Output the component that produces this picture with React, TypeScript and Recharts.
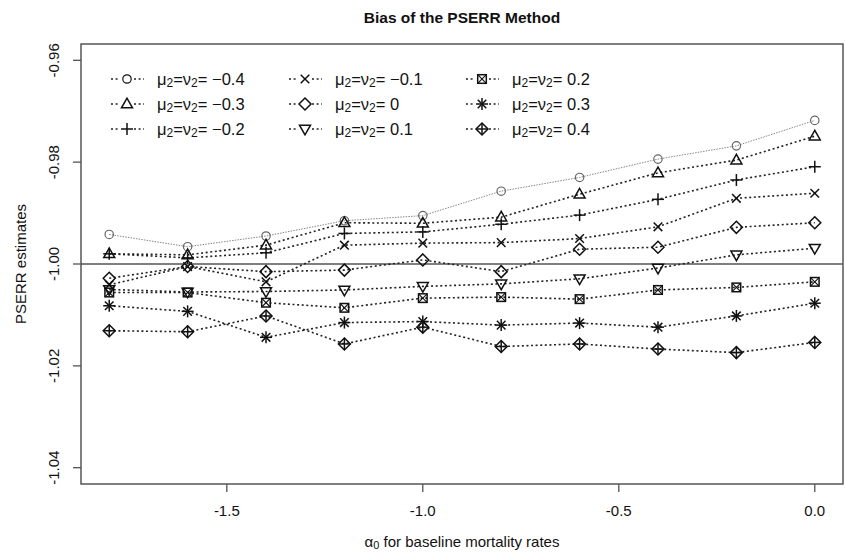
import React from "react";
import { LineChart, Line, XAxis, YAxis, ReferenceLine } from "recharts";

const alphas = [-1.8, -1.6, -1.4, -1.2, -1.0, -0.8, -0.6, -0.4, -0.2, 0.0];
const mNeg04 = [-0.9942, -0.9966, -0.9945, -0.9915, -0.9905, -0.9857, -0.983, -0.9794, -0.9768, -0.9718];
const mNeg03 = [-0.998, -0.9982, -0.9963, -0.9919, -0.992, -0.9908, -0.9863, -0.9821, -0.9796, -0.9749];
const mNeg02 = [-0.998, -0.9988, -0.9978, -0.994, -0.9937, -0.9922, -0.9904, -0.9873, -0.9835, -0.9809];
const mNeg01 = [-1.0041, -1.0005, -1.0035, -0.9963, -0.9959, -0.9958, -0.995, -0.9927, -0.9871, -0.9861];
const mZero = [-1.0028, -1.0005, -1.0015, -1.0012, -0.9992, -1.0015, -0.9971, -0.9967, -0.9928, -0.9919];
const mPos01 = [-1.005, -1.0055, -1.0054, -1.0051, -1.0044, -1.0039, -1.0029, -1.0008, -0.9982, -0.9969];
const mPos02 = [-1.0056, -1.0056, -1.0076, -1.0086, -1.0067, -1.0065, -1.0069, -1.0051, -1.0046, -1.0035];
const mPos03 = [-1.0082, -1.0093, -1.0144, -1.0115, -1.0113, -1.012, -1.0116, -1.0124, -1.0102, -1.0077];
const mPos04 = [-1.0131, -1.0133, -1.0102, -1.0157, -1.0124, -1.0162, -1.0157, -1.0167, -1.0174, -1.0154];

const xTicks = [-1.5, -1.0, -0.5, 0.0];
const yTicks = [-1.04, -1.02, -1.0, -0.98, -0.96];
const xDomain = [-1.872, 0.072];
const yDomain = [-1.0432, -0.9568];

const seriesDefs = [
  { key: "a", label: "\u22120.4", values: mNeg04, kind: "circle" },
  { key: "b", label: "\u22120.3", values: mNeg03, kind: "tri" },
  { key: "c", label: "\u22120.2", values: mNeg02, kind: "plus" },
  { key: "d", label: "\u22120.1", values: mNeg01, kind: "x" },
  { key: "e", label: "0", values: mZero, kind: "diamond" },
  { key: "f", label: "0.1", values: mPos01, kind: "tridown" },
  { key: "g", label: "0.2", values: mPos02, kind: "boxx" },
  { key: "h", label: "0.3", values: mPos03, kind: "star" },
  { key: "i", label: "0.4", values: mPos04, kind: "diamondplus" },
];

const data = alphas.map((x, i) => {
  const row: any = { x };
  seriesDefs.forEach((s) => (row[s.key] = s.values[i]));
  return row;
});

const FONT = "'Liberation Sans', Arial, Helvetica, sans-serif";
const INK = "#111";
const FRAME = "#555";

// chart layout (plot box)
const CHART_W = 845;
const CHART_H = 555;
const MARGIN = { top: 44, right: 2, left: 0, bottom: 41 };
const Y_AXIS_W = 81;
const X_AXIS_H = 30;
const PLOT = {
  x: MARGIN.left + Y_AXIS_W,
  y: MARGIN.top,
  w: CHART_W - MARGIN.left - Y_AXIS_W - MARGIN.right,
  h: CHART_H - MARGIN.top - MARGIN.bottom - X_AXIS_H,
};

function Marker({ cx, cy, kind, color }: { cx: number; cy: number; kind: string; color: string }) {
  const sw = 1.5;
  const common = { stroke: color, strokeWidth: sw, fill: "none" };
  switch (kind) {
    case "circle":
      return <circle cx={cx} cy={cy} r={4.2} {...common} strokeWidth={1.2} />;
    case "tri":
      return <polygon points={`${cx},${cy - 5.8} ${cx - 5.5},${cy + 3.8} ${cx + 5.5},${cy + 3.8}`} {...common} />;
    case "tridown":
      return <polygon points={`${cx},${cy + 5.8} ${cx - 5.5},${cy - 3.8} ${cx + 5.5},${cy - 3.8}`} {...common} />;
    case "plus":
      return (
        <g {...common}>
          <line x1={cx - 6} y1={cy} x2={cx + 6} y2={cy} />
          <line x1={cx} y1={cy - 6} x2={cx} y2={cy + 6} />
        </g>
      );
    case "x":
      return (
        <g {...common}>
          <line x1={cx - 4.3} y1={cy - 4.3} x2={cx + 4.3} y2={cy + 4.3} />
          <line x1={cx - 4.3} y1={cy + 4.3} x2={cx + 4.3} y2={cy - 4.3} />
        </g>
      );
    case "diamond":
      return <polygon points={`${cx},${cy - 6} ${cx + 6},${cy} ${cx},${cy + 6} ${cx - 6},${cy}`} {...common} />;
    case "boxx":
      return (
        <g {...common}>
          <rect x={cx - 4.3} y={cy - 4.3} width={8.6} height={8.6} />
          <line x1={cx - 4.3} y1={cy - 4.3} x2={cx + 4.3} y2={cy + 4.3} strokeWidth={1.1} />
          <line x1={cx - 4.3} y1={cy + 4.3} x2={cx + 4.3} y2={cy - 4.3} strokeWidth={1.1} />
        </g>
      );
    case "star":
      return (
        <g {...common}>
          <line x1={cx - 6} y1={cy} x2={cx + 6} y2={cy} />
          <line x1={cx} y1={cy - 6} x2={cx} y2={cy + 6} />
          <line x1={cx - 4.3} y1={cy - 4.3} x2={cx + 4.3} y2={cy + 4.3} />
          <line x1={cx - 4.3} y1={cy + 4.3} x2={cx + 4.3} y2={cy - 4.3} />
        </g>
      );
    case "diamondplus":
      return (
        <g {...common}>
          <polygon points={`${cx},${cy - 6} ${cx + 6},${cy} ${cx},${cy + 6} ${cx - 6},${cy}`} />
          <line x1={cx - 6} y1={cy} x2={cx + 6} y2={cy} />
          <line x1={cx} y1={cy - 6} x2={cx} y2={cy + 6} />
        </g>
      );
    default:
      return null;
  }
}

const YTick = (props: any) => {
  const { x, y, payload } = props;
  return (
    <text
      transform={`translate(${x - 20},${y}) rotate(-90)`}
      textAnchor="middle"
      dominantBaseline="central"
      fontSize={15}
      fontFamily={FONT}
      fill={INK}
    >
      {Number(payload.value).toFixed(2)}
    </text>
  );
};

const XTick = (props: any) => {
  const { x, y, payload } = props;
  return (
    <text x={x} y={y + 18} textAnchor="middle" dominantBaseline="central" fontSize={15} fontFamily={FONT} fill={INK}>
      {Number(payload.value).toFixed(1)}
    </text>
  );
};

function LegendLabel({ x, y, value }: { x: number; y: number; value: string }) {
  return (
    <text x={x} y={y} fontSize={16.5} fontFamily={FONT} fill={INK} dominantBaseline="central">
      <tspan>μ</tspan>
      <tspan dy={4} fontSize={12}>2</tspan>
      <tspan dy={-4}>=ν</tspan>
      <tspan dy={4} fontSize={12}>2</tspan>
      <tspan dy={-4}>{"= " + value}</tspan>
    </text>
  );
}

const legendCols = [127, 305, 482];
const legendRows = [79, 104, 129];

export default function App() {
  return (
    <div style={{ position: "absolute", left: 0, top: 0, width: CHART_W, height: CHART_H, background: "#fff" }}>
      <LineChart width={CHART_W} height={CHART_H} data={data} margin={MARGIN}>
        <XAxis
          type="number"
          dataKey="x"
          domain={xDomain}
          ticks={xTicks}
          allowDataOverflow
          axisLine={false}
          tickLine={{ stroke: FRAME, strokeWidth: 1.3 }}
          tickSize={8}
          tickMargin={0}
          height={X_AXIS_H}
          tick={XTick}
        />
        <YAxis
          type="number"
          domain={yDomain}
          ticks={yTicks}
          allowDataOverflow
          axisLine={false}
          tickLine={{ stroke: FRAME, strokeWidth: 1.3 }}
          tickSize={8}
          tickMargin={0}
          width={Y_AXIS_W}
          tick={YTick}
        />
        <ReferenceLine y={-1.0} stroke={FRAME} strokeWidth={1.5} />
        {seriesDefs.map((s) => {
          const isCircle = s.kind === "circle";
          const color = isCircle ? "#666" : INK;
          return (
            <Line
              key={s.key}
              type="linear"
              dataKey={s.key}
              stroke={isCircle ? "#888" : "#222"}
              strokeWidth={isCircle ? 1 : 1.6}
              strokeDasharray={isCircle ? "1.5 1.2" : "2 2.6"}
              isAnimationActive={false}
              activeDot={false}
              dot={(p: any) => (
                <Marker key={`${s.key}-${p.index}`} cx={p.cx} cy={p.cy} kind={s.kind} color={color} />
              )}
            />
          );
        })}
      </LineChart>
      <svg width={CHART_W} height={CHART_H} style={{ position: "absolute", left: 0, top: 0, pointerEvents: "none" }}>
        <rect x={PLOT.x} y={PLOT.y} width={PLOT.w} height={PLOT.h} fill="none" stroke={FRAME} strokeWidth={1.5} />
        <text x={462} y={23} textAnchor="middle" fontSize={15.5} fontWeight="bold" fontFamily={FONT} fill={INK}>
          Bias of the PSERR Method
        </text>
        <text x={462} y={541} textAnchor="middle" dominantBaseline="central" fontSize={15} fontFamily={FONT} fill={INK}>
          <tspan>α</tspan>
          <tspan dy={4} fontSize={11}>0</tspan>
          <tspan dy={-4}> for baseline mortality rates</tspan>
        </text>
        <text
          transform="translate(20,264) rotate(-90)"
          textAnchor="middle"
          dominantBaseline="central"
          fontSize={15}
          fontFamily={FONT}
          fill={INK}
        >
          PSERR estimates
        </text>
        {seriesDefs.map((s, i) => {
          const col = Math.floor(i / 3);
          const row = i % 3;
          const cx = legendCols[col];
          const cy = legendRows[row];
          return (
            <g key={s.key}>
              <line x1={cx - 16} y1={cy} x2={cx + 17} y2={cy} stroke="#222" strokeWidth={1.6} strokeDasharray="2 2.6" />
              <rect x={cx - 7} y={cy - 7} width={14} height={14} fill="#fff" />
              <Marker cx={cx} cy={cy} kind={s.kind} color={INK} />
              <LegendLabel x={cx + 30} y={cy} value={s.label} />
            </g>
          );
        })}
      </svg>
    </div>
  );
}
